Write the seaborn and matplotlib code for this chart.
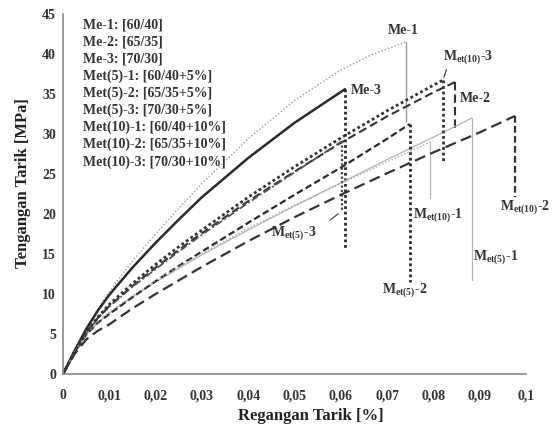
import numpy as np
import pandas as pd
import matplotlib
matplotlib.use("Agg")
import matplotlib.pyplot as plt
import seaborn as sns

# ---- data (strain, stress) ----
me1_x = [0, 0.0025, 0.005, 0.0075, 0.01, 0.015, 0.02, 0.025, 0.03, 0.04, 0.05, 0.06, 0.067, 0.0741]
me1_y = [0, 2.9, 5.7, 8.1, 10.3, 14.1, 17.5, 20.7, 23.8, 29.4, 34.2, 38.0, 40.0, 41.5]
me2_x = [0, 0.0025, 0.005, 0.0075, 0.01, 0.015, 0.02, 0.025, 0.03, 0.04, 0.05, 0.06, 0.07, 0.08, 0.0847]
me2_y = [0, 2.8, 5.2, 7.0, 8.5, 11.0, 13.3, 15.5, 17.6, 21.6, 25.3, 28.9, 32.2, 35.2, 36.5]
me3_x = [0, 0.0025, 0.005, 0.0075, 0.01, 0.015, 0.02, 0.025, 0.03, 0.04, 0.05, 0.0609]
me3_y = [0, 2.9, 5.6, 7.9, 9.9, 13.3, 16.4, 19.3, 22.1, 27.0, 31.4, 35.6]
met51_x = [0, 0.0025, 0.005, 0.0075, 0.01, 0.015, 0.02, 0.025, 0.03, 0.04, 0.05, 0.06, 0.07, 0.08, 0.0883]
met51_y = [0, 2.7, 4.9, 6.4, 7.6, 9.6, 11.5, 13.2, 14.9, 18.0, 21.0, 23.9, 26.8, 29.6, 32.0]
met52_x = [0, 0.0025, 0.005, 0.0075, 0.01, 0.015, 0.02, 0.025, 0.03, 0.04, 0.05, 0.06, 0.07, 0.0749]
met52_y = [0, 2.7, 4.9, 6.4, 7.5, 9.6, 11.6, 13.5, 15.3, 18.9, 22.4, 25.8, 29.4, 31.25]
met53_x = [0, 0.0025, 0.005, 0.0075, 0.01, 0.015, 0.02, 0.025, 0.03, 0.04, 0.05, 0.06, 0.0602]
met53_y = [0, 2.8, 5.1, 6.9, 8.4, 10.9, 13.1, 15.3, 17.4, 21.4, 25.2, 29.0, 29.1]
met101_x = [0, 0.0025, 0.005, 0.0075, 0.01, 0.015, 0.02, 0.025, 0.03, 0.04, 0.05, 0.06, 0.07, 0.0793]
met101_y = [0, 2.7, 4.9, 6.5, 7.7, 9.8, 11.7, 13.4, 15.1, 18.2, 21.1, 23.8, 26.5, 29.0]
met102_x = [0, 0.0025, 0.005, 0.0075, 0.01, 0.015, 0.02, 0.025, 0.03, 0.04, 0.05, 0.06, 0.07, 0.08, 0.09, 0.0976]
met102_y = [0, 2.5, 4.3, 5.4, 6.2, 8.2, 10.0, 11.7, 13.4, 16.6, 19.6, 22.4, 25.1, 27.7, 30.2, 32.25]
met103_x = [0, 0.0025, 0.005, 0.0075, 0.01, 0.015, 0.02, 0.025, 0.03, 0.04, 0.05, 0.06, 0.07, 0.08, 0.0821]
met103_y = [0, 2.8, 5.2, 7.1, 8.7, 11.3, 13.7, 15.9, 18.0, 22.1, 25.9, 29.5, 32.9, 36.1, 36.75]

# stress the curve falls to at the break
drop_to = {"Me-1": 31.5, "Me-2": 30.7, "Me-3": 15.5, "Met(5)-1": 11.75,
           "Met(5)-2": 11.5, "Met(5)-3": 20.25, "Met(10)-1": 22.0,
           "Met(10)-2": 22.1, "Met(10)-3": 26.5}

legend_lines = ["Me-1: [60/40]", "Me-2: [65/35]", "Me-3: [70/30]",
                "Met(5)-1: [60/40+5%]", "Met(5)-2: [65/35+5%]", "Met(5)-3: [70/30+5%]",
                "Met(10)-1: [60/40+10%]", "Met(10)-2: [65/35+10%]", "Met(10)-3: [70/30+10%]"]
xtick_vals = [0, 0.01, 0.02, 0.03, 0.04, 0.05, 0.06, 0.07, 0.08, 0.09, 0.1]
xtick_labels = ["0", "0,01", "0,02", "0,03", "0,04", "0,05", "0,06", "0,07", "0,08", "0,09", "0,1"]

series = {
    "Me-1": (me1_x, me1_y), "Me-2": (me2_x, me2_y), "Me-3": (me3_x, me3_y),
    "Met(5)-1": (met51_x, met51_y), "Met(5)-2": (met52_x, met52_y), "Met(5)-3": (met53_x, met53_y),
    "Met(10)-1": (met101_x, met101_y), "Met(10)-2": (met102_x, met102_y), "Met(10)-3": (met103_x, met103_y),
}

# curve style, drop style
styles = {
    "Me-1":      dict(c="#9c9c9c", ls=(0, (1, 1.5)), lw=1.0, dc="#9c9c9c", dls="-", dlw=1.0),
    "Me-2":      dict(c="#333333", ls=(0, (4, 2)), lw=1.5, dc="#333333", dls=(0, (4, 2)), dlw=1.5),
    "Me-3":      dict(c="#2a2a2a", ls="-", lw=1.8, dc="#2a2a2a", dls=(0, (1, 1)), dlw=2.0),
    "Met(5)-1":  dict(c="#b4b4b4", ls="-", lw=0.9, dc="#b4b4b4", dls="-", dlw=0.9),
    "Met(5)-2":  dict(c="#2a2a2a", ls=(0, (3, 1.5)), lw=1.6, dc="#2a2a2a", dls=(0, (1, 1)), dlw=2.0),
    "Met(5)-3":  dict(c="#555555", ls=(0, (4, 1.5, 1, 1.5)), lw=1.3, dc="#444444", dls=(0, (1, 1)), dlw=1.6),
    "Met(10)-1": dict(c="#a8a8a8", ls=(0, (1, 1.5)), lw=1.0, dc="#b4b4b4", dls="-", dlw=0.9),
    "Met(10)-2": dict(c="#333333", ls=(0, (5, 2.5)), lw=1.6, dc="#333333", dls=(0, (3, 1.5)), dlw=1.6),
    "Met(10)-3": dict(c="#333333", ls=(0, (1, 1)), lw=2.0, dc="#333333", dls=(0, (1, 1)), dlw=2.0),
}

sns.set_style("white")
plt.rcParams["font.family"] = ["Liberation Serif", "DejaVu Serif"]
plt.rcParams["font.weight"] = "bold"
plt.rcParams["mathtext.fontset"] = "custom"
plt.rcParams["mathtext.rm"] = "Liberation Serif:bold"
plt.rcParams["mathtext.it"] = "Liberation Serif:bold"

fig = plt.figure(figsize=(5.52, 4.25), dpi=100)
ax = fig.add_axes([63 / 552, 1 - 374 / 425, 463 / 552, 360 / 425])

for name, (xs, ys) in series.items():
    st = styles[name]
    df = pd.DataFrame({"x": xs, "y": ys})
    sns.lineplot(data=df, x="x", y="y", ax=ax, color=st["c"], lw=st["lw"],
                 linestyle=st["ls"], sort=False, estimator=None)
    drop = pd.DataFrame({"x": [xs[-1], xs[-1]], "y": [ys[-1], drop_to[name]]})
    sns.lineplot(data=drop, x="x", y="y", ax=ax, color=st["dc"], lw=st["dlw"],
                 linestyle=st["dls"], sort=False, estimator=None)

ax.set_xlim(0, 0.1)
ax.set_ylim(0, 45)
ax.set_xticks(xtick_vals)
ax.set_xticklabels(xtick_labels)
ax.set_yticks(range(0, 46, 5))
sns.despine(ax=ax)
for s in ["left", "bottom"]:
    ax.spines[s].set_color("#8a8a8a")
    ax.spines[s].set_linewidth(1.2)
ax.tick_params(axis="x", direction="in", length=4, color="#666666", labelsize=10,
               labelcolor="#333333", pad=11)
ax.tick_params(axis="y", direction="out", length=3, color="#888888", labelsize=10,
               labelcolor="#333333", pad=2)
ax.set_xlabel("Regangan Tarik [%]", fontsize=12, fontweight="bold", color="#222222")
ax.set_ylabel("Tengangan Tarik [MPa]", fontsize=12, fontweight="bold", color="#222222")
ax.xaxis.set_label_coords(0.535, -0.095)
ax.yaxis.set_label_coords(-0.07, 0.53)

# composition block, top-left
for i, line in enumerate(legend_lines):
    fig.text(83 / 552, 1 - (25 + 17.1 * i) / 425, line, fontsize=10, fontweight="bold",
             color="#333333", va="center", ha="left")

# curve labels
lab = dict(fontsize=10, fontweight="bold", color="#333333", va="center")
ax.text(0.0734, 42.9, "Me-1", ha="center", **lab)
ax.text(0.0622, 35.4, "Me-3", ha="left", **lab)
ax.text(0.0856, 34.4, "Me-2", ha="left", **lab)
ax.text(0.0821, 39.6, r"M$_{\mathregular{et(10)}}$-3", ha="left", **lab)
ax.text(0.0756, 19.9, r"M$_{\mathregular{et(10)}}$-1", ha="left", **lab)
ax.text(0.0886, 14.6, r"M$_{\mathregular{et(5)}}$-1", ha="left", **lab)
ax.text(0.0739, 10.5, r"M$_{\mathregular{et(5)}}$-2", ha="center", **lab)
ax.text(0.0944, 20.9, r"M$_{\mathregular{et(10)}}$-2", ha="left", clip_on=False, **lab)
ax.text(0.0450, 17.6, r"M$_{\mathregular{et(5)}}$-3", ha="left", **lab)

# small leader lines
ax.annotate("", xy=(met103_x[-1], met103_y[-1]), xytext=(0.0830, 38.4),
            arrowprops=dict(arrowstyle="-", color="#333333", lw=0.8))
ax.annotate("", xy=(met53_x[-1] - 0.0003, drop_to["Met(5)-3"]), xytext=(0.0572, 19.0),
            arrowprops=dict(arrowstyle="-", color="#333333", lw=0.8))

fig.savefig("out.png", dpi=100)
